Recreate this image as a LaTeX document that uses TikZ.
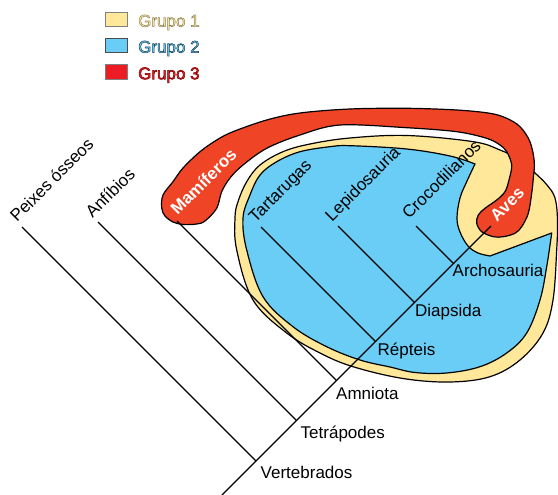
\documentclass[tikz,border=0pt]{standalone}
\usepackage{fontspec}
\setmainfont{Liberation Sans}
\definecolor{gyellow}{RGB}{255,232,153}
\definecolor{gblue}{RGB}{105,205,245}
\definecolor{gred}{RGB}{239,68,38}
\definecolor{lred}{RGB}{237,28,36}
\newcommand{\outlinetext}[3]{\textcolor{#1}{\special{pdf:literal direct 2 Tr 0.5 w #2 RG}#3\special{pdf:literal direct 0 Tr}}}
\begin{document}
\begin{tikzpicture}[x=1pt,y=-1pt,
  outl/.style={draw=black,line width=1.2pt,line join=round},
  branch/.style={draw=black,line width=1.2pt},
  rlab/.style={anchor=base west,rotate=45,inner sep=0pt,font=\fontsize{17}{19}\selectfont},
  wlab/.style={anchor=base west,rotate=45,inner sep=0pt,text=white,font=\fontsize{17}{19}\selectfont\bfseries},
  hlab/.style={anchor=base west,inner sep=0pt,font=\fontsize{17}{19}\selectfont},
  legbox/.style={draw=gray,line width=0.8pt},
  legtxt/.style={anchor=base west,inner sep=0pt,font=\fontsize{17}{19}\selectfont}]
\useasboundingbox (0,0) rectangle (558,495);
% Grupo 1 (yellow)
\path[outl,fill=gyellow] plot[smooth cycle,tension=0.6] coordinates {
 (235,218) (238,201.7) (246.7,181.7) (260,165) (283,151.7) (310,144) (350,138)
 (406.7,135.5) (473.3,141.7) (500,150) (520,160) (535,173) (547,185) (555,198)
 (557.5,220) (556.7,250) (553,300) (543,333) (520,360) (490,376.7) (450,382)
 (403,378.5) (353,366.7) (320,353) (286.7,333) (253,300) (236.7,250)};
% Grupo 2 (blue)
\path[outl,fill=gblue] plot[smooth,tension=0.6] coordinates {
 (551.7,233) (546.7,266.7) (540,300) (526.7,333) (506.7,353) (480,366.7) (446.7,373)
 (415,372.5) (390,367) (360,360) (326.7,346.7) (293,326.7) (263,296.7) (246.7,250)
 (243,218) (250,195) (260,175) (276.7,161.7) (300,151.7) (330,146.7) (350,145.7)
 (406.7,149) (450,156) (475,164)}
 -- plot[smooth,tension=0.6] coordinates {
 (475,164) (466.7,181.7) (460,198) (457,218) (460,232) (468,246) (478,253) (490,256)}
 -- cycle;
% Grupo 3 (red)
\path[outl,fill=gred] plot[smooth cycle,tension=0.55] coordinates {
 (173,222) (165,216) (161.7,208) (163,195) (173,181.7) (183,168) (200,151.7)
 (216.7,140) (233,131.7) (266.7,120) (300,113) (350,109) (406.7,108.3) (456.7,110)
 (490,113.3) (506.7,118.3) (520,126.7) (530,141.7) (534.3,161.7) (533.3,178.3)
 (531.7,193.3) (528.3,213.3) (521.7,226.7) (515,233.3) (503.3,236.7) (493.3,236.7)
 (481.7,231.7) (476.7,223.3) (478.3,215) (485,208.3) (496.7,200) (505,191.7)
 (509,180) (511.7,165) (506.7,151.7) (500,145) (486.7,138.3) (456.7,131.7)
 (406.7,127.7) (340,125) (300,135) (266.7,148.3) (243,165) (230,178) (221.7,191.7)
 (216.7,208.3) (205,221) (196.7,224) (183,224.5)};
% tree coordinates
\coordinate (root) at (222,495);
\coordinate (vert) at (256,461);
\coordinate (tetra) at (296.5,420.5);
\coordinate (amnio) at (336.5,380.5);
\coordinate (rept) at (375.5,341.5);
\coordinate (diap) at (414.5,302.5);
\coordinate (arch) at (453.5,263.5);
\coordinate (tAves) at (491,226);
\coordinate (tPeixes) at (22,227);
\coordinate (tAnfib) at (98,222);
\coordinate (tMamif) at (177,221);
\coordinate (tTart) at (261,227);
\coordinate (tLepi) at (338,226);
\coordinate (tCroc) at (416,226);
\draw[branch] (root) -- (tAves);
\draw[branch] (vert) -- (tPeixes);
\draw[branch] (tetra) -- (tAnfib);
\draw[branch] (amnio) -- (tMamif);
\draw[branch] (rept) -- (tTart);
\draw[branch] (diap) -- (tLepi);
\draw[branch] (arch) -- (tCroc);
% tip labels
\node[rlab] (lPeixes) at (17,223) {Peixes ósseos};
\node[rlab] (lAnfib) at (92.5,219) {Anfíbios};
\node[rlab] (lTart) at (255.5,223.5) {Tartarugas};
\node[rlab] (lLepi) at (332,222.5) {Lepidosauria};
\node[rlab] (lCroc) at (409,220) {Crocodilianos};
\node[wlab] (lMamif) at (177.5,216) {Mamíferos};
\node[wlab] (lAves) at (497,222.5) {Aves};
% clade labels
\node[hlab] (lVert) at (260.5,478.3) {Vertebrados};
\node[hlab] (lTetra) at (300.5,438.3) {Tetrápodes};
\node[hlab] (lAmnio) at (336,399.3) {Amniota};
\node[hlab] (lRept) at (377.5,355.7) {Répteis};
\node[hlab] (lDiap) at (415,316.7) {Diapsida};
\node[hlab] (lArch) at (452.5,276.7) {Archosauria};
% legend
\path[legbox,fill=gyellow] (105,12.7) rectangle (127.5,26.7);
\path[legbox,fill=gblue,draw=black!70] (105,38) rectangle (127.5,52.7);
\path[legbox,fill=lred] (105,64.3) rectangle (127.5,79.3);
\node[legtxt] (g1) at (138,26.7) {\outlinetext{gyellow}{0.55 0.5 0.35}{Grupo 1}};
\node[legtxt] (g2) at (138,52.7) {\outlinetext{gblue}{0.1 0.25 0.35}{Grupo 2}};
\node[legtxt] (g3) at (138,79.3) {\outlinetext{lred}{0.45 0 0}{Grupo 3}};
\end{tikzpicture}
\end{document}
